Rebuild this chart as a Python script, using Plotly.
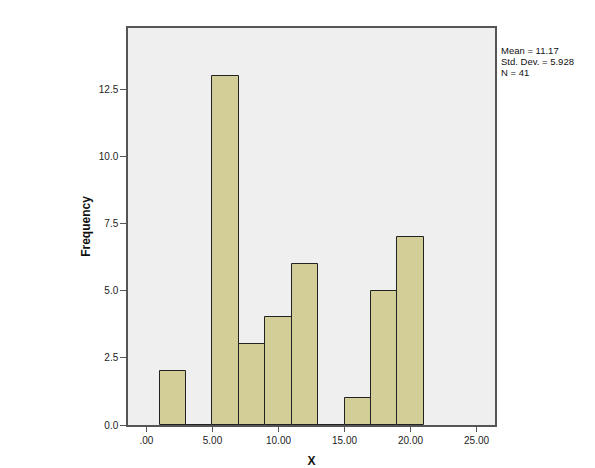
import plotly.graph_objects as go

# histogram bins (width 2, starting at 1) and counts
bin_start = [1, 3, 5, 7, 9, 11, 13, 15, 17, 19]
bin_width = 2
counts = [2, 0, 13, 3, 4, 6, 0, 1, 5, 7]

x_ticks = [0, 5, 10, 15, 20, 25]
x_tick_labels = [".00", "5.00", "10.00", "15.00", "20.00", "25.00"]
y_ticks = [0, 2.5, 5, 7.5, 10, 12.5]
y_tick_labels = ["0.0", "2.5", "5.0", "7.5", "10.0", "12.5"]

stats_lines = ["Mean = 11.17", "Std. Dev. = 5.928", "N = 41"]

centers = [b + bin_width / 2 for b in bin_start]

fig = go.Figure()
fig.add_trace(go.Bar(
    x=centers, y=counts, width=bin_width,
    marker=dict(color="#d3ce98", line=dict(color="#222222", width=1)),
    showlegend=False,
))

axis_font = dict(family="Arial, Liberation Sans", size=10, color="#222222")
title_font = dict(family="Arial, Liberation Sans", size=12, color="#111111")
fig.update_layout(
    width=587, height=470,
    margin=dict(l=120, r=100, t=20, b=43),
    paper_bgcolor="white", plot_bgcolor="#efefef",
    bargap=0,
    xaxis=dict(
        range=[-1.4, 26.4], tickvals=x_ticks, ticktext=x_tick_labels,
        ticks="outside", ticklen=5, tickcolor="#555555",
        showgrid=False, zeroline=False,
        showline=True, linecolor="#555555", linewidth=1.5, mirror=True,
        tickfont=axis_font,
        title=dict(text="<b>X</b>", font=title_font, standoff=12),
    ),
    yaxis=dict(
        range=[0, 14.77], tickvals=y_ticks, ticktext=y_tick_labels,
        ticks="outside", ticklen=6, tickcolor="#555555",
        showgrid=False, zeroline=False,
        showline=True, linecolor="#555555", linewidth=1.5, mirror=True,
        tickfont=axis_font,
        title=dict(text="<b>Frequency</b>", font=title_font, standoff=6),
    ),
)

# stats box text, tight line spacing like SPSS
for i, line in enumerate(stats_lines):
    fig.add_annotation(
        text=line, xref="paper", yref="paper",
        x=1.01, y=1.0, xanchor="left", yanchor="top", align="left",
        yshift=-(15 + 11 * i), showarrow=False,
        font=dict(family="Arial, Liberation Sans", size=9.5, color="#111111"),
    )

fig.write_html("out.html")
